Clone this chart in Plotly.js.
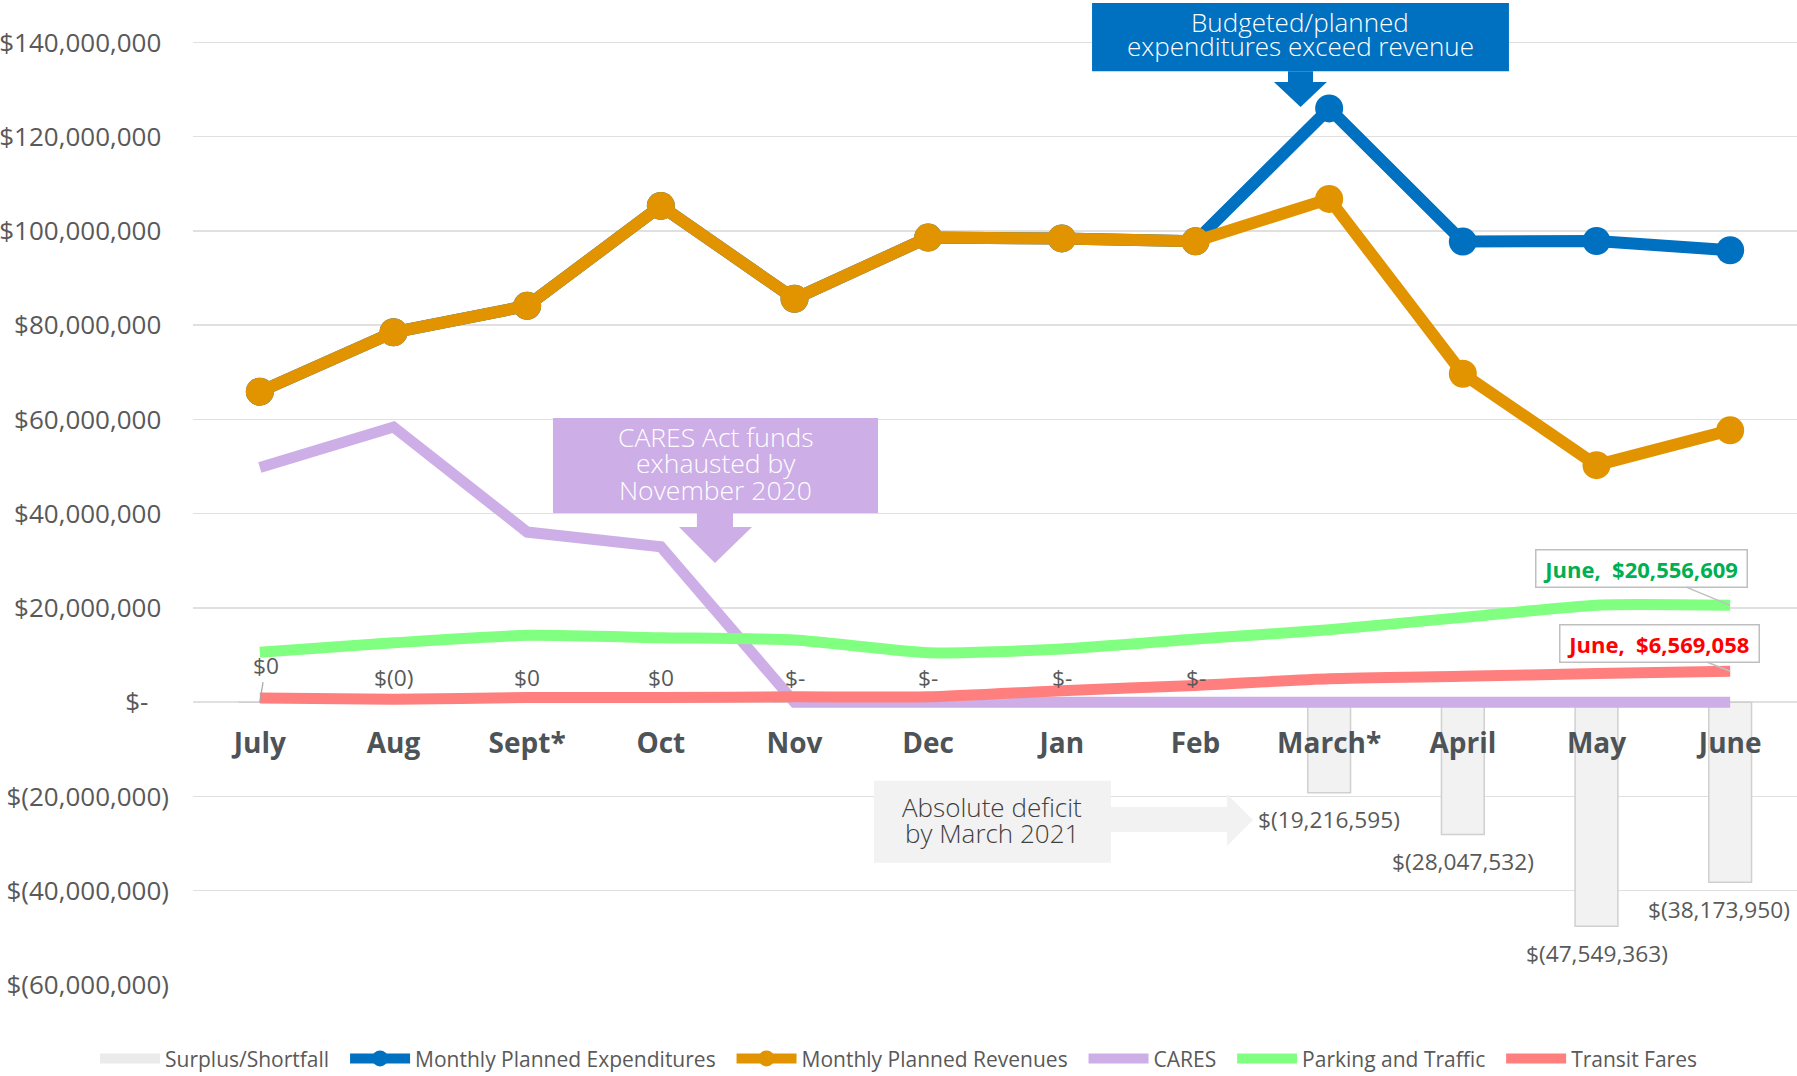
<!DOCTYPE html>
<html>
<head>
<meta charset="utf-8">
<script src="https://cdn.plot.ly/plotly-3.0.1.min.js"></script>
<style>
  html, body { margin: 0; padding: 0; background: #ffffff; }
  #chart { width: 1797px; height: 1076px; }
</style>
</head>
<body>
<div id="chart"></div>
<script>
// ---------- data ----------
const months = ['July', 'Aug', 'Sept*', 'Oct', 'Nov', 'Dec', 'Jan', 'Feb', 'March*', 'April', 'May', 'June'];
const surplus = [0, 0, 0, 0, 0, 0, 0, 0, -19216595, -28047532, -47549363, -38173950];
const surplusLabels = ['$0', '$(0)', '$0', '$0', '$-', '$-', '$-', '$-', '$(19,216,595)', '$(28,047,532)', '$(47,549,363)', '$(38,173,950)'];
const expenditures = [65900000, 78500000, 84100000, 105300000, 85600000, 98600000, 98400000, 97800000, 126000000, 97750000, 97850000, 95900000];
const revenues = [65900000, 78500000, 84100000, 105300000, 85600000, 98600000, 98400000, 97800000, 106800000, 69700000, 50300000, 57700000];
const cares = [49800000, 58400000, 36100000, 33000000, 0, 0, 0, 0, 0, 0, 0, 0];
const parking = [10600000, 12600000, 14200000, 13700000, 13200000, 10500000, 11300000, 13400000, 15400000, 18000000, 20600000, 20556609];
const transit = [870000, 640000, 1000000, 1000000, 1140000, 1140000, 2460000, 3550000, 5000000, 5500000, 6100000, 6569058];
const seriesNames = ['Surplus/Shortfall', 'Monthly Planned Expenditures', 'Monthly Planned Revenues', 'CARES', 'Parking and Traffic', 'Transit Fares'];
const yTickVals = [-60000000, -40000000, -20000000, 0, 20000000, 40000000, 60000000, 80000000, 100000000, 120000000, 140000000];
const yTickLabels = ['$(60,000,000)', '$(40,000,000)', '$(20,000,000)', '$-', '$20,000,000', '$40,000,000', '$60,000,000', '$80,000,000', '$100,000,000', '$120,000,000', '$140,000,000'];

// ---------- styling ----------
const FONT = "'Open Sans', 'Noto Sans', sans-serif";
const GRAY_TXT = '#595959';
const HIDE = '<span style="color:#ffffff">';
const yTickText = yTickLabels.map(t => {
  if (t.endsWith(')')) return t;
  if (t === '$-') return t + HIDE + "0'</span>";
  return t + HIDE + ')</span>';
});
const legName = n => n + '\u00a0\u00a0';

const traces = [
  // legend swatch for the bar series
  {
    type: 'scatter', mode: 'lines', name: legName(seriesNames[0]), x: [null], y: [null],
    line: { color: '#ebebeb', width: 16 }, legendgroup: 'surplus', hoverinfo: 'skip'
  },
  {
    type: 'bar', name: seriesNames[0], x: months, y: surplus, width: 0.32,
    marker: { color: '#f2f2f2', line: { color: '#d0d0d0', width: 1.5 } },
    legendgroup: 'surplus', showlegend: false, hoverinfo: 'skip'
  },
  {
    type: 'scatter', mode: 'lines+markers', name: legName(seriesNames[1]), x: months, y: expenditures,
    line: { color: '#0070c0', width: 12 }, marker: { color: '#0070c0', size: 28 }, hoverinfo: 'skip'
  },
  {
    type: 'scatter', mode: 'lines+markers', name: legName(seriesNames[2]), x: months, y: revenues,
    line: { color: '#e29400', width: 12 }, marker: { color: '#e29400', size: 28 }, hoverinfo: 'skip'
  },
  {
    type: 'scatter', mode: 'lines', name: legName(seriesNames[3]), x: months, y: cares,
    line: { color: '#cdaee6', width: 11 }, hoverinfo: 'skip'
  },
  {
    type: 'scatter', mode: 'lines', name: legName(seriesNames[4]), x: months, y: parking,
    line: { color: '#80ff80', width: 11, shape: 'spline', smoothing: 0.6 }, hoverinfo: 'skip'
  },
  {
    type: 'scatter', mode: 'lines', name: seriesNames[5], x: months, y: transit,
    line: { color: '#ff7f7f', width: 11, shape: 'spline', smoothing: 0.6 }, hoverinfo: 'skip'
  }
];

// ---------- annotations ----------
const annotations = [];
surplus.forEach((v, i) => {
  const a = {
    x: i, y: v, xref: 'x', yref: 'y', text: surplusLabels[i], showarrow: false,
    font: { family: FONT, size: 22.7, color: GRAY_TXT }
  };
  if (i === 0) {
    Object.assign(a, { showarrow: true, ax: 6, ay: -37, arrowhead: 0, arrowwidth: 1.2, arrowcolor: '#a6a6a6', standoff: 0 });
  } else if (v < 0) {
    a.yshift = -27;
    if (i === surplus.length - 1) a.xshift = -11;
  } else {
    a.yshift = 25;
  }
  annotations.push(a);
});

// June call-outs
annotations.push({
  x: 11, y: parking[11], xref: 'x', yref: 'y',
  text: '&nbsp;<b>June,  $20,556,609</b>&nbsp;', showarrow: true, ax: -89, ay: -37,
  arrowhead: 0, arrowwidth: 1.5, arrowcolor: '#bfbfbf', standoff: 0,
  bgcolor: '#ffffff', bordercolor: '#bfbfbf', borderwidth: 1.5, borderpad: 3,
  font: { family: FONT, size: 22, color: '#00b050' }
});
annotations.push({
  x: 11, y: transit[11], xref: 'x', yref: 'y',
  text: '&nbsp;<b>June,  $6,569,058</b>&nbsp;', showarrow: true, ax: -71, ay: -28,
  arrowhead: 0, arrowwidth: 1.5, arrowcolor: '#bfbfbf', standoff: 0,
  bgcolor: '#ffffff', bordercolor: '#bfbfbf', borderwidth: 1.5, borderpad: 3,
  font: { family: FONT, size: 22, color: '#ff0000' }
});

// text for the callout boxes (one annotation per line for tight spacing)
function addLines(lines, cx, ys, color, size) {
  lines.forEach((t, k) => annotations.push({
    x: cx, y: ys[k], xref: 'x', yref: 'y', text: t, showarrow: false,
    font: { family: FONT, size: size, color: color, weight: 300 }
  }));
}
addLines(['Budgeted/planned', 'expenditures exceed revenue'], 7.785, [144400000, 139200000], '#ffffff', 26);
addLines(['CARES Act funds', 'exhausted by', 'November 2020'], 3.41, [56380000, 50710000, 45070000], '#ffffff', 26.5);
addLines(['Absolute deficit', 'by March 2021'], 5.475, [-22130000, -27750000], '#404040', 26);

// ---------- callout shapes ----------
const M = 1e6;
const shapes = [
  { type: 'rect', xref: 'x', yref: 'y', x0: 6.226, x1: 9.345, y0: 133.9 * M, y1: 148.35 * M,
    fillcolor: '#0070c0', line: { width: 0 }, layer: 'above' },
  { type: 'path', xref: 'x', yref: 'y', layer: 'above', fillcolor: '#0070c0', line: { width: 0 },
    path: `M 7.692,${133.9 * M} L 7.879,${133.9 * M} L 7.879,${131.6 * M} L 7.983,${131.6 * M} L 7.786,${126.3 * M} L 7.587,${131.6 * M} L 7.692,${131.6 * M} Z` },
  { type: 'rect', xref: 'x', yref: 'y', x0: 2.193, x1: 4.625, y0: 40.15 * M, y1: 60.3 * M,
    fillcolor: '#cdaee6', line: { width: 0 }, layer: 'above' },
  { type: 'path', xref: 'x', yref: 'y', layer: 'above', fillcolor: '#cdaee6', line: { width: 0 },
    path: `M 3.270,${40.15 * M} L 3.540,${40.15 * M} L 3.540,${37.18 * M} L 3.682,${37.18 * M} L 3.405,${29.54 * M} L 3.136,${37.18 * M} L 3.270,${37.18 * M} Z` },
  { type: 'rect', xref: 'x', yref: 'y', x0: 4.595, x1: 6.368, y0: -34.08 * M, y1: -16.68 * M,
    fillcolor: '#f2f2f2', line: { width: 0 }, layer: 'above' },
  { type: 'path', xref: 'x', yref: 'y', layer: 'above', fillcolor: '#f2f2f2', line: { width: 0 },
    path: `M 6.368,${-22.23 * M} L 7.236,${-22.23 * M} L 7.236,${-19.48 * M} L 7.430,${-24.99 * M} L 7.236,${-30.51 * M} L 7.236,${-27.54 * M} L 6.368,${-27.54 * M} Z` }
];

const layout = {
  width: 1797, height: 1076,
  margin: { l: 193, r: 0, t: 0, b: 91, pad: 0 },
  paper_bgcolor: '#ffffff', plot_bgcolor: '#ffffff',
  font: { family: FONT, color: GRAY_TXT },
  showlegend: true,
  legend: {
    orientation: 'h', xref: 'container', yref: 'container', x: 0.5, xanchor: 'center', y: 0.016, yanchor: 'middle',
    font: { family: FONT, size: 21, color: GRAY_TXT }, itemwidth: 60, traceorder: 'normal'
  },
  xaxis: {
    type: 'category', range: [-0.5, 11.5], fixedrange: true,
    anchor: 'free', position: 0.2871,
    showgrid: false, zeroline: false, showline: false, ticks: '',
    ticklabelstandoff: 22,
    tickfont: { family: FONT, size: 28, color: '#4d5357', weight: 'bold' }
  },
  yaxis: {
    range: [-60000000, 149000000], fixedrange: true,
    tickvals: yTickVals, ticktext: yTickText,
    showgrid: true, gridcolor: '#e0e0e0', gridwidth: 1.5,
    zeroline: true, zerolinecolor: '#e0e0e0', zerolinewidth: 1.5,
    showline: false, ticks: '', ticklabelstandoff: 23,
    tickfont: { family: FONT, size: 26, color: GRAY_TXT }
  },
  bargap: 0.68,
  annotations: annotations,
  shapes: shapes
};

Plotly.newPlot('chart', traces, layout, { displayModeBar: false, staticPlot: true });
</script>
</body>
</html>
